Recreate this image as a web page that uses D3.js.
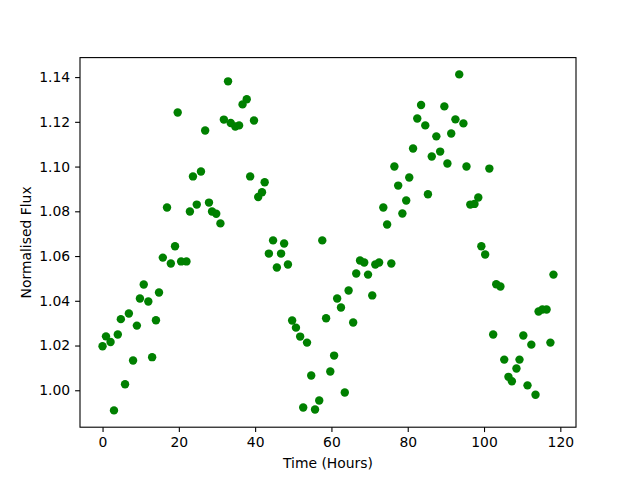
<!DOCTYPE html>
<html>
<head>
<meta charset="utf-8">
<script src="https://cdn.jsdelivr.net/npm/d3@7"></script>
<style>
  body { margin: 0; background: #fff; }
  text { font-family: "DejaVu Sans", sans-serif; }
</style>
</head>
<body>
<script>
// time of each observation, hours
const hours = [
  0, 0.9, 2.1, 3, 4, 4.8, 5.9, 6.9, 8, 9, 9.8, 10.8, 12, 13, 14, 14.8, 15.8, 16.9, 17.9, 19,
  19.7, 20.6, 22, 22.9, 23.7, 24.7, 25.8, 26.9, 27.9, 28.7, 29.8, 30.9, 31.8, 32.9, 33.6, 34.8,
  35.8, 36.7, 37.8, 38.7, 39.7, 40.8, 41.8, 42.5, 43.6, 44.7, 45.7, 46.8, 47.6, 48.6, 49.7, 50.7,
  51.8, 52.6, 53.6, 54.7, 55.7, 56.8, 57.6, 58.6, 59.7, 60.7, 61.5, 62.5, 63.5, 64.5, 65.7, 66.5,
  67.5, 68.6, 69.6, 70.7, 71.5, 72.5, 73.6, 74.6, 75.7, 76.5, 77.5, 78.6, 79.6, 80.4, 81.4, 82.5,
  83.5, 84.6, 85.3, 86.3, 87.5, 88.5, 89.6, 90.4, 91.4, 92.5, 93.5, 94.6, 95.4, 96.4, 97.5, 98.5,
  99.3, 100.3, 101.4, 102.4, 103.2, 104.3, 105.3, 106.4, 107.3, 108.5, 109.3, 110.3, 111.4, 112.4,
  113.5, 114.3, 115.3, 116.4, 117.4, 118.2
];

// normalised flux at each time
const flux = [
  1.0197, 1.0241, 1.0216, 0.9910, 1.0249, 1.0318, 1.0027, 1.0343, 1.0133, 1.0289, 1.0410, 1.0473,
  1.0397, 1.0148, 1.0313, 1.0437, 1.0593, 1.0817, 1.0567, 1.0644, 1.1242, 1.0576, 1.0576, 1.0799,
  1.0956, 1.0830, 1.0978, 1.1161, 1.0839, 1.0799, 1.0789, 1.0746, 1.1210, 1.1381, 1.1195, 1.1179,
  1.1184, 1.1278, 1.1301, 1.0956, 1.1206, 1.0864, 1.0885, 1.0930, 1.0611, 1.0670, 1.0549, 1.0611,
  1.0656, 1.0562, 1.0312, 1.0280, 1.0240, 0.9923, 1.0213, 1.0066, 0.9914, 0.9954, 1.0670, 1.0322,
  1.0084, 1.0155, 1.0410, 1.0370, 0.9990, 1.0446, 1.0303, 1.0522, 1.0580, 1.0571, 1.0517, 1.0424,
  1.0562, 1.0571, 1.0817, 1.0741, 1.0567, 1.1000, 1.0915, 1.0790, 1.0848, 1.0951, 1.1081, 1.1215,
  1.1275, 1.1184, 1.0876, 1.1045, 1.1135, 1.1067, 1.1269, 1.1014, 1.1148, 1.1211, 1.1412, 1.1193,
  1.1000, 1.0830, 1.0833, 1.0862, 1.0644, 1.0607, 1.0991, 1.0249, 1.0474, 1.0464, 1.0137, 1.0060,
  1.0040, 1.0097, 1.0137, 1.0245, 1.0022, 1.0204, 0.9980, 1.0352, 1.0361, 1.0361, 1.0213, 1.0517
];

const xTicks = [0, 20, 40, 60, 80, 100, 120];
const yTicks = [1.00, 1.02, 1.04, 1.06, 1.08, 1.10, 1.12, 1.14];

const width = 640, height = 480;
const margin = { top: 57.6, right: 64, bottom: 52.8, left: 80 };

// matplotlib style 5% padding around the data
function padded(values) {
    const [lo, hi] = d3.extent(values);
    const pad = (hi - lo) * 0.05;
    return [lo - pad, hi + pad];
}

const svg = d3.select('body').append('svg')
    .attr('width', width)
    .attr('height', height);

const x = d3.scaleLinear().domain(padded(hours)).range([margin.left, width - margin.right]);
const y = d3.scaleLinear().domain(padded(flux)).range([height - margin.bottom, margin.top]);

const points = hours.map((h, i) => ({ h, f: flux[i] }));

svg.append('g').selectAll('circle').data(points).enter()
    .append('circle')
    .attr('cx', d => x(d.h))
    .attr('cy', d => y(d.f))
    .attr('r', 4.2)
    .attr('fill', '#008000');

const xAxis = svg.append('g')
    .attr('transform', `translate(0,${height - margin.bottom})`)
    .call(d3.axisBottom(x).tickValues(xTicks).tickFormat(d3.format('d')).tickSize(4.9).tickPadding(4.9));

const yAxis = svg.append('g')
    .attr('transform', `translate(${margin.left},0)`)
    .call(d3.axisLeft(y).tickValues(yTicks).tickFormat(d3.format('.2f')).tickSize(4.9).tickPadding(4.9));

[xAxis, yAxis].forEach(a => {
    a.select('.domain').remove();
    a.selectAll('line').attr('stroke', '#000').attr('stroke-width', 1.1);
    a.selectAll('text').attr('font-size', 13.9).attr('fill', '#000')
        .style('font-family', '"DejaVu Sans", sans-serif');
});

// frame
svg.append('rect')
    .attr('x', margin.left)
    .attr('y', margin.top)
    .attr('width', width - margin.left - margin.right)
    .attr('height', height - margin.top - margin.bottom)
    .attr('fill', 'none')
    .attr('stroke', '#000')
    .attr('stroke-width', 1.1);

svg.append('text')
    .attr('x', (margin.left + width - margin.right) / 2)
    .attr('y', 468)
    .attr('text-anchor', 'middle')
    .attr('font-size', 13.9)
    .text('Time (Hours)');

svg.append('text')
    .attr('transform', `translate(31,${(margin.top + height - margin.bottom) / 2}) rotate(-90)`)
    .attr('text-anchor', 'middle')
    .attr('font-size', 13.9)
    .text('Normalised Flux');
</script>
</body>
</html>
